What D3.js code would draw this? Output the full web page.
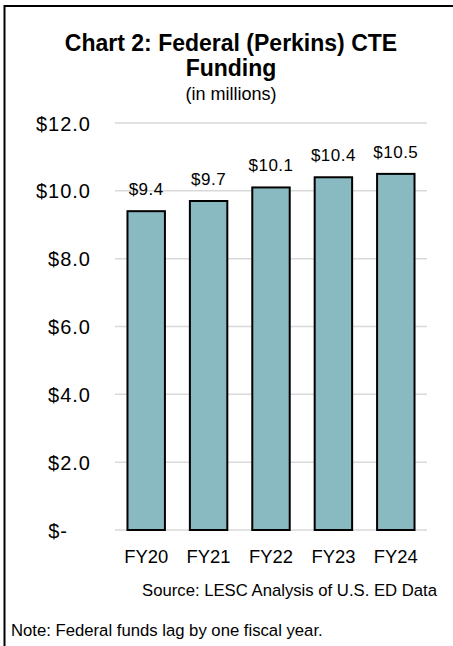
<!DOCTYPE html>
<html>
<head>
<meta charset="utf-8">
<script src="https://cdn.jsdelivr.net/npm/d3@7"></script>
<style>
  body { margin: 0; background: #fff; }
  text { font-family: "Liberation Sans", Arial, sans-serif; fill: #000; }
</style>
</head>
<body>
<script>
// Federal (Perkins) CTE funding, in millions
var years = ["FY20", "FY21", "FY22", "FY23", "FY24"];
var funding = [9.4, 9.7, 10.1, 10.4, 10.5];
var yTicks = [0, 2, 4, 6, 8, 10, 12];

var w = 453;
var h = 646;

var svg = d3.select("body")
  .append("svg")
  .attr("width", w)
  .attr("height", h);

// frame (top + left only, the rest is cut off)
svg.append("path")
  .attr("d", "M4.5," + h + "V6H" + w)
  .attr("fill", "none")
  .attr("stroke", "#000")
  .attr("stroke-width", 2);

// titles
svg.append("text")
  .attr("x", 231).attr("y", 51)
  .attr("text-anchor", "middle")
  .style("font-size", "23px").style("font-weight", "bold")
  .text("Chart 2: Federal (Perkins) CTE");
svg.append("text")
  .attr("x", 231).attr("y", 76)
  .attr("text-anchor", "middle")
  .style("font-size", "23px").style("font-weight", "bold")
  .text("Funding");
svg.append("text")
  .attr("x", 231).attr("y", 100)
  .attr("text-anchor", "middle")
  .style("font-size", "18px")
  .text("(in millions)");

var xScale = d3.scaleBand()
  .domain(years)
  .range([115, 427])
  .paddingInner(0.4)
  .paddingOuter(0.2);

var yScale = d3.scaleLinear()
  .domain([0, 12])
  .range([530, 123]);

// gridlines
svg.append("g")
  .selectAll("line")
  .data(yTicks)
  .enter()
  .append("line")
  .attr("x1", 115)
  .attr("x2", 427)
  .attr("y1", function(d) { return yScale(d); })
  .attr("y2", function(d) { return yScale(d); })
  .attr("stroke", "#d9d9d9")
  .attr("stroke-width", 1.5);

// y axis
var yAxis = d3.axisLeft(yScale)
  .tickValues(yTicks)
  .tickSize(0)
  .tickPadding(0)
  .tickFormat(function(d) { return d === 0 ? "$-" : "$" + d3.format(".1f")(d); });

var gy = svg.append("g")
  .attr("transform", "translate(91,0)")
  .call(yAxis);
gy.select(".domain").remove();
gy.selectAll("text")
  .style("font-size", "20px")
  .style("letter-spacing", "1px")
  .attr("dy", "0.35em");
gy.selectAll(".tick").filter(function(d) { return d === 0; })
  .select("text").attr("x", -23);

// bars
svg.append("g")
  .selectAll("rect")
  .data(funding)
  .enter()
  .append("rect")
  .attr("x", function(d, i) { return xScale(years[i]); })
  .attr("y", function(d) { return yScale(d); })
  .attr("width", xScale.bandwidth())
  .attr("height", function(d) { return yScale(0) - yScale(d); })
  .attr("fill", "#8abac1")
  .attr("stroke", "#000")
  .attr("stroke-width", 2);

// value labels
svg.append("g")
  .selectAll("text")
  .data(funding)
  .enter()
  .append("text")
  .attr("x", function(d, i) { return xScale(years[i]) + xScale.bandwidth() / 2; })
  .attr("y", function(d) { return yScale(d) - 16; })
  .attr("text-anchor", "middle")
  .style("font-size", "17px")
  .style("letter-spacing", "0.5px")
  .text(function(d) { return "$" + d3.format(".1f")(d); });

// x axis
var xAxis = d3.axisBottom(xScale).tickSize(0).tickPadding(0);
var gx = svg.append("g")
  .attr("transform", "translate(0,563)")
  .call(xAxis);
gx.select(".domain").remove();
gx.selectAll("text")
  .style("font-size", "18.4px")
  .attr("dy", 0);

// source + note
svg.append("text")
  .attr("x", 437).attr("y", 596)
  .attr("text-anchor", "end")
  .style("font-size", "16.7px")
  .text("Source: LESC Analysis of U.S. ED Data");
svg.append("text")
  .attr("x", 11).attr("y", 636)
  .style("font-size", "16.7px")
  .text("Note: Federal funds lag by one fiscal year.");
</script>
</body>
</html>
